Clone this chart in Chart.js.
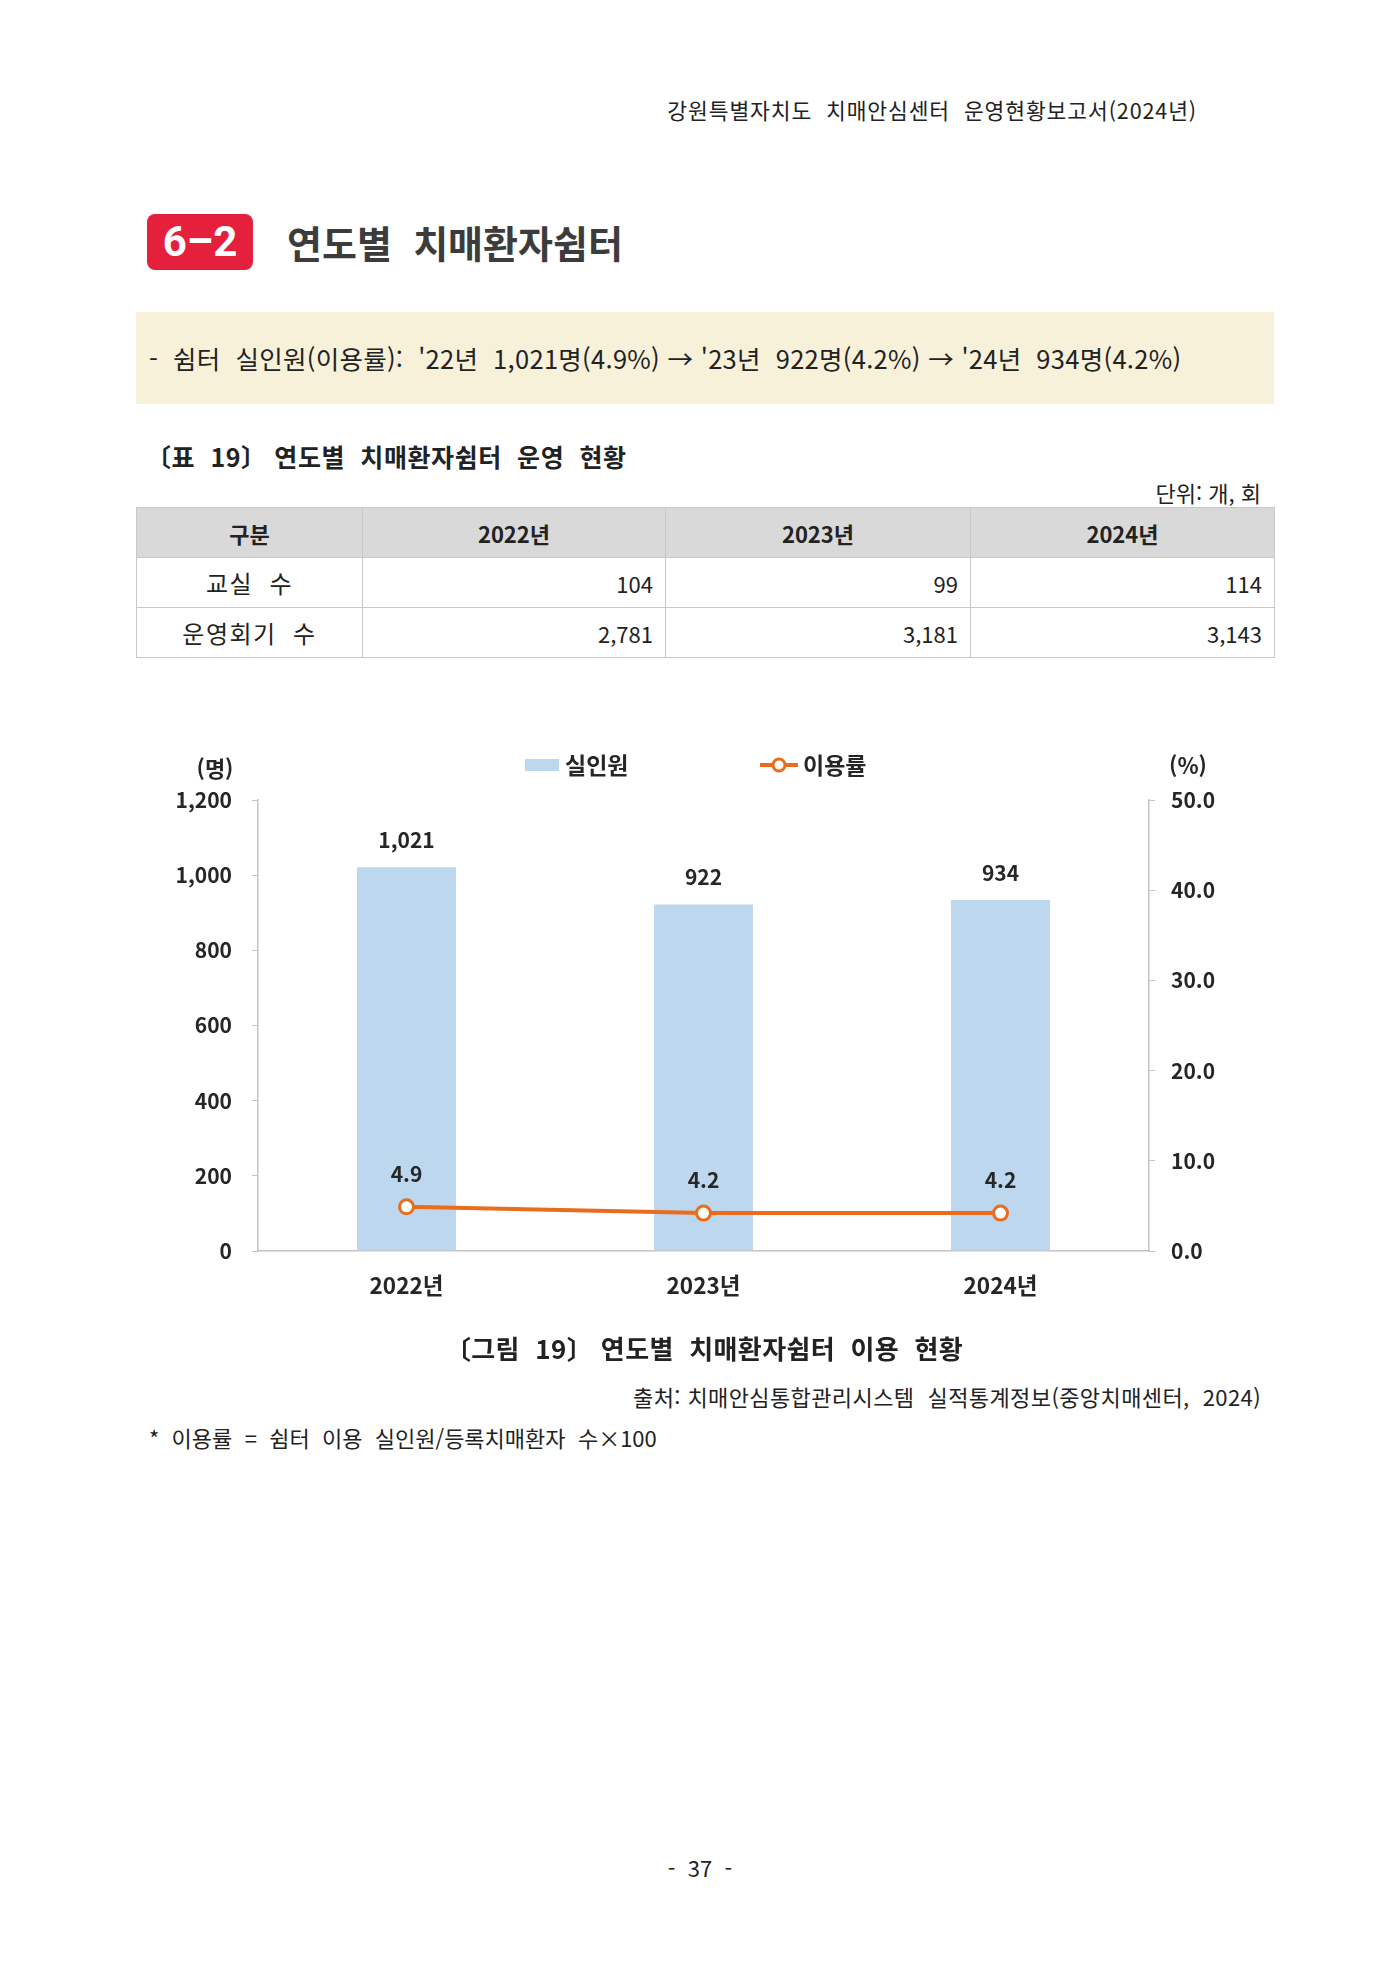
<!DOCTYPE html>
<html lang="ko">
<head>
<meta charset="utf-8">
<script src="https://cdn.jsdelivr.net/npm/chart.js@4.4.1/dist/chart.umd.min.js"></script>
<style>
  html, body { margin:0; padding:0; background:#fff; }
  body { width:1400px; height:1980px; position:relative; overflow:hidden;
         font-family:"Noto Sans CJK KR","Noto Sans",sans-serif; color:#222; }
  .t { position:absolute; white-space:nowrap; line-height:40px; height:40px; }
  #badge { position:absolute; left:147px; top:214px; width:106px; height:56px; background:#e5203d;
           border-radius:8px; color:#fff; font-family:"Liberation Sans Narrow","Roboto",sans-serif;
           font-weight:bold; font-size:42px; line-height:56px; text-align:center; }
  #box { position:absolute; left:136px; top:312px; width:1138px; height:92px; background:#f8f1da; }
  table { position:absolute; left:136px; top:507px; border-collapse:collapse; table-layout:fixed; }
  td, th { border:1px solid #c8c8c8; height:49px; padding:0 12px; font-size:22px; color:#222; }
  th { background:#d9d9d9; font-weight:bold; text-align:center; }
  td.l { text-align:center; font-size:24px; letter-spacing:1.5px; }
  td.r { text-align:right; }
  #chartWrap { position:absolute; left:136px; top:740px; width:1138px; height:590px; }
</style>
</head>
<body>
<div class="t" style="right:203px; top:90px; font-size:21.5px; letter-spacing:0.9px; color:#222;">강원특별자치도&nbsp; 치매안심센터&nbsp; 운영현황보고서(2024년)</div>
<div id="badge">6–2</div>
<div class="t" style="left:287px; top:222px; font-size:38px; font-weight:bold; color:#3c3c3c;">연도별&nbsp; 치매환자쉼터</div>
<div id="box"></div>
<div class="t" style="left:149px; top:338px; font-size:25.5px; letter-spacing:0.3px; color:#222;">-&nbsp; 쉼터&nbsp; 실인원(이용률):&nbsp; '22년&nbsp; 1,021명(4.9%) → '23년&nbsp; 922명(4.2%) → '24년&nbsp; 934명(4.2%)</div>
<div class="t" style="left:146px; top:436px; font-size:25px; letter-spacing:0.6px; font-weight:bold; color:#222;">〔표&nbsp; 19〕 연도별&nbsp; 치매환자쉼터&nbsp; 운영&nbsp; 현황</div>
<div class="t" style="right:139px; top:472px; font-size:22px; color:#222;">단위: 개, 회</div>
<table id="tbl"></table>
<div id="chartWrap"><canvas id="c" width="1138" height="590"></canvas></div>
<div class="t" style="left:0; width:1408px; text-align:center; top:1328px; font-size:26px; letter-spacing:0.4px; font-weight:bold; color:#222;">〔그림&nbsp; 19〕 연도별&nbsp; 치매환자쉼터&nbsp; 이용&nbsp; 현황</div>
<div class="t" style="right:139px; top:1376px; font-size:22px; letter-spacing:0.4px; color:#222;">출처: 치매안심통합관리시스템&nbsp; 실적통계정보(중앙치매센터,&nbsp; 2024)</div>
<div class="t" style="left:149px; top:1417px; font-size:22px; letter-spacing:0px; color:#222;">*&nbsp; 이용률&nbsp; =&nbsp; 쉼터&nbsp; 이용&nbsp; 실인원/등록치매환자&nbsp; 수×100</div>
<div class="t" style="left:0; width:1400px; text-align:center; top:1847px; font-size:22px; color:#222;">-&nbsp; 37&nbsp; -</div>

<script>
// ---- data ----
const years = ['2022년', '2023년', '2024년'];
const participants = [1021, 922, 934];      // 실인원 (명)
const usageRate = [4.9, 4.2, 4.2];          // 이용률 (%)
const classrooms = [104, 99, 114];          // 교실 수
const sessions = [2781, 3181, 3143];        // 운영회기 수
const tableHeader = ['구분', '2022년', '2023년', '2024년'];
const rowLabels = ['교실 수', '운영회기 수'];
const leftTicks = { min: 0, max: 1200, step: 200 };
const rightTicks = { min: 0, max: 50, step: 10 };

// ---- table ----
(function () {
  const widths = [226, 303, 305, 304];
  const tbl = document.getElementById('tbl');
  let html = '<colgroup>' + widths.map(w => `<col style="width:${w}px">`).join('') + '</colgroup>';
  html += '<tr>' + tableHeader.map(h => `<th>${h}</th>`).join('') + '</tr>';
  [classrooms, sessions].forEach((row, i) => {
    html += `<tr><td class="l">${rowLabels[i].replace(' ', '&nbsp; ')}</td>` +
      row.map(v => `<td class="r">${v.toLocaleString('en-US')}</td>`).join('') + '</tr>';
  });
  tbl.innerHTML = html;
})();

// ---- chart ----
const FONT = '"Noto Sans CJK KR","Noto Sans",sans-serif';
const TXT = '#262626';
const BAR = '#bdd7ee';
const LINE = '#e96d1c';
const AXIS = '#c4c4c4';

const extras = {
  id: 'extras',
  afterDatasetsDraw(chart) {
    const ctx = chart.ctx;
    ctx.save();
    ctx.fillStyle = TXT;
    ctx.font = `bold 21px ${FONT}`;
    ctx.textAlign = 'center';
    ctx.textBaseline = 'middle';
    chart.getDatasetMeta(0).data.forEach((el, i) => {
      ctx.fillText(participants[i].toLocaleString('en-US'), el.x, el.y - 27);
    });
    chart.getDatasetMeta(1).data.forEach((el, i) => {
      ctx.fillText(usageRate[i].toFixed(1), el.x, el.y - 33);
    });
    // axis unit titles
    const yL = chart.scales.y, yR = chart.scales.y1;
    ctx.font = `bold 22px ${FONT}`;
    ctx.fillText('(명)', 79, yL.top - 31);
    ctx.fillText('(%)', 1052, yR.top - 34);
    // legend
    const ly = 25;
    ctx.fillStyle = BAR;
    ctx.fillRect(389, ly - 6, 34, 12);
    ctx.fillStyle = TXT;
    ctx.textAlign = 'left';
    ctx.font = `bold 23px ${FONT}`;
    ctx.fillText('실인원', 429, ly);
    ctx.strokeStyle = LINE;
    ctx.lineWidth = 4;
    ctx.beginPath(); ctx.moveTo(624, ly); ctx.lineTo(662, ly); ctx.stroke();
    ctx.fillStyle = '#fff';
    ctx.lineWidth = 3;
    ctx.beginPath(); ctx.arc(643, ly, 6, 0, Math.PI * 2); ctx.fill(); ctx.stroke();
    ctx.fillStyle = TXT;
    ctx.fillText('이용률', 667, ly);
    ctx.restore();
  }
};

new Chart(document.getElementById('c'), {
  data: {
    labels: years,
    datasets: [
      { type: 'bar', label: '실인원', data: participants, yAxisID: 'y', order: 2,
        backgroundColor: BAR, borderWidth: 0, categoryPercentage: 1, barPercentage: 0.333 },
      { type: 'line', label: '이용률', data: usageRate, yAxisID: 'y1', order: 1,
        borderColor: LINE, borderWidth: 4, pointRadius: 7, pointHoverRadius: 7,
        pointBackgroundColor: '#fff', pointBorderColor: LINE, pointBorderWidth: 3, tension: 0 }
    ]
  },
  options: {
    responsive: false,
    animation: false,
    events: [],
    layout: { padding: { top: 60, left: 0, right: 0, bottom: 0 } },
    plugins: { legend: { display: false }, tooltip: { enabled: false } },
    scales: {
      x: {
        grid: { display: false, drawTicks: false },
        border: { display: true, color: AXIS, width: 1.5 },
        ticks: { color: TXT, font: { family: FONT, size: 22.5, weight: 'bold' }, padding: 21 },
        afterFit(s) { s.height = 79; }
      },
      y: {
        position: 'left', min: leftTicks.min, max: leftTicks.max,
        grid: { display: true, drawOnChartArea: false, drawTicks: true, tickLength: 6, color: AXIS },
        border: { display: true, color: AXIS, width: 1.5 },
        ticks: { stepSize: leftTicks.step, color: TXT, padding: 20,
                 font: { family: FONT, size: 21, weight: 'bold' },
                 callback: v => v.toLocaleString('en-US') },
        afterFit(s) { s.width = 122; }
      },
      y1: {
        position: 'right', min: rightTicks.min, max: rightTicks.max,
        grid: { display: true, drawOnChartArea: false, drawTicks: true, tickLength: 6, color: AXIS },
        border: { display: true, color: AXIS, width: 1.5 },
        ticks: { stepSize: rightTicks.step, color: TXT, padding: 16,
                 font: { family: FONT, size: 21, weight: 'bold' },
                 callback: v => Number(v).toFixed(1) },
        afterFit(s) { s.width = 125; }
      }
    }
  },
  plugins: [extras]
});
</script>
</body>
</html>
